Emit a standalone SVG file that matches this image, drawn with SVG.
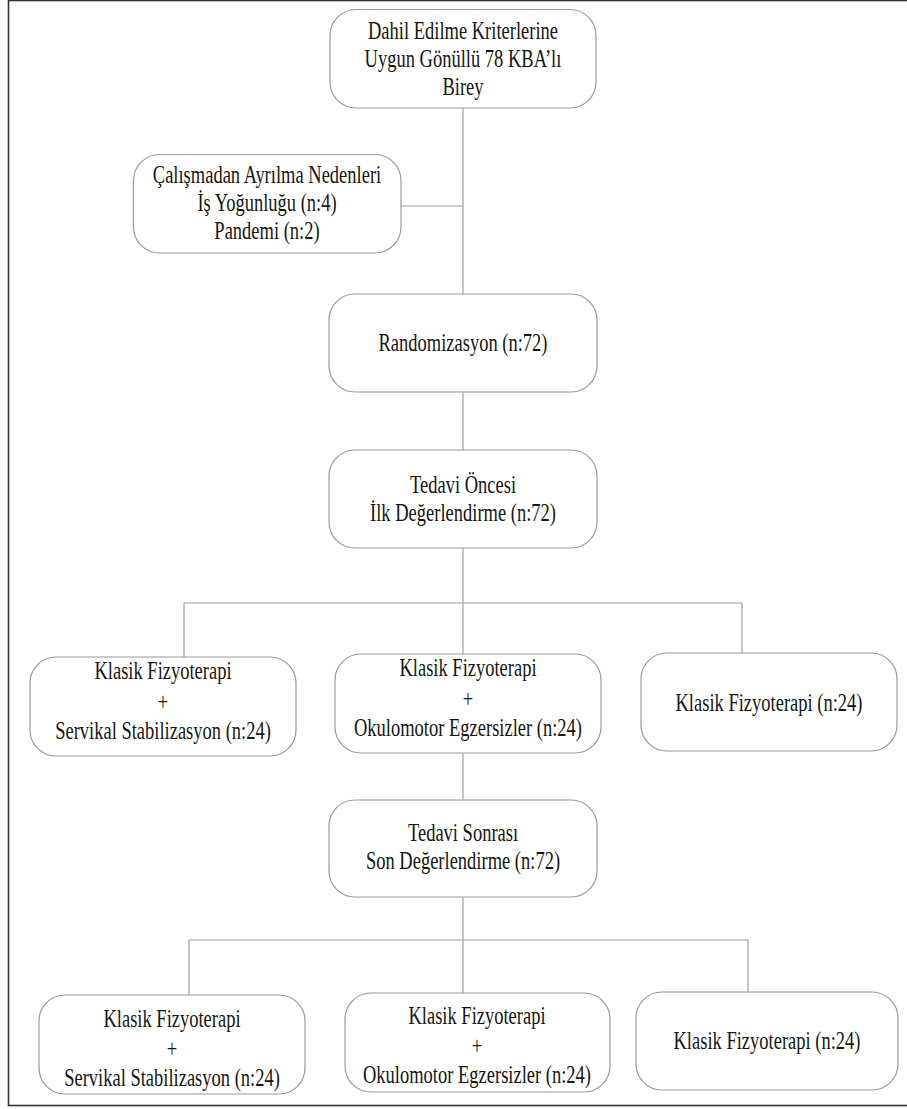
<svg xmlns="http://www.w3.org/2000/svg" width="907" height="1109" viewBox="0 0 907 1109">
<style>
.box{fill:#fff;stroke:#9a9a9a;stroke-width:1.2}
.lbl{font-family:"Liberation Serif","Times New Roman",serif;font-size:25px;fill:#151515;text-anchor:middle}
.con{fill:none;stroke:#a0a0a0;stroke-width:1.2}
</style>
<rect x="0" y="0" width="907" height="1109" fill="#fff"/>
<rect x="8.5" y="0.5" width="905" height="1105" fill="none" stroke="#333" stroke-width="1.6"/>
<g id="connectors" class="con">
<path d="M463 108V294"/>
<path d="M401 206H463"/>
<path d="M463 392V450"/>
<path d="M463 548V603"/>
<path d="M184 603H742"/>
<path d="M184 603V657"/>
<path d="M463 603V654"/>
<path d="M742 603V653"/>
<path d="M463 753V800"/>
<path d="M463 897V940"/>
<path d="M189 940H748"/>
<path d="M189 940V995"/>
<path d="M463 940V993"/>
<path d="M748 940V992"/>
</g>
<g id="n-top">
<rect class="box" x="330" y="9.5" width="266" height="98.5" rx="26"/>
<text class="lbl" transform="translate(463 0) scale(0.74 1)"><tspan x="0" y="39">Dahil Edilme Kriterlerine</tspan><tspan x="0" y="67">Uygun Gönüllü 78 KBA’lı</tspan><tspan x="0" y="95">Birey</tspan></text>
</g>
<g id="n-exit">
<rect class="box" x="133.5" y="154.5" width="267.5" height="98.5" rx="26"/>
<text class="lbl" transform="translate(267 0) scale(0.74 1)"><tspan x="0" y="183.5">Çalışmadan Ayrılma Nedenleri</tspan><tspan x="0" y="211.5">İş Yoğunluğu (n:4)</tspan><tspan x="0" y="239.5">Pandemi (n:2)</tspan></text>
</g>
<g id="n-rand">
<rect class="box" x="329" y="294" width="268" height="98" rx="26"/>
<text class="lbl" transform="translate(463 0) scale(0.74 1)"><tspan x="0" y="351.5">Randomizasyon (n:72)</tspan></text>
</g>
<g id="n-pre">
<rect class="box" x="329" y="450" width="268" height="98" rx="26"/>
<text class="lbl" transform="translate(463 0) scale(0.74 1)"><tspan x="0" y="493">Tedavi Öncesi</tspan><tspan x="0" y="521">İlk Değerlendirme (n:72)</tspan></text>
</g>
<g id="n-g1a">
<rect class="box" x="30" y="657" width="266" height="99" rx="26"/>
<text class="lbl" transform="translate(163 0) scale(0.74 1)"><tspan x="0" y="679">Klasik Fizyoterapi</tspan><tspan x="0" y="710">+</tspan><tspan x="0" y="739">Servikal Stabilizasyon (n:24)</tspan></text>
</g>
<g id="n-g2a">
<rect class="box" x="335" y="654" width="266" height="99" rx="26"/>
<text class="lbl" transform="translate(468 0) scale(0.74 1)"><tspan x="0" y="676">Klasik Fizyoterapi</tspan><tspan x="0" y="707">+</tspan><tspan x="0" y="736">Okulomotor Egzersizler (n:24)</tspan></text>
</g>
<g id="n-g3a">
<rect class="box" x="641" y="653" width="256" height="98" rx="26"/>
<text class="lbl" transform="translate(769 0) scale(0.74 1)"><tspan x="0" y="711">Klasik Fizyoterapi (n:24)</tspan></text>
</g>
<g id="n-post">
<rect class="box" x="329" y="800" width="268" height="97" rx="26"/>
<text class="lbl" transform="translate(463 0) scale(0.74 1)"><tspan x="0" y="841">Tedavi Sonrası</tspan><tspan x="0" y="869">Son Değerlendirme (n:72)</tspan></text>
</g>
<g id="n-g1b">
<rect class="box" x="39" y="995" width="266" height="99" rx="26"/>
<text class="lbl" transform="translate(172 0) scale(0.74 1)"><tspan x="0" y="1027">Klasik Fizyoterapi</tspan><tspan x="0" y="1057">+</tspan><tspan x="0" y="1086">Servikal Stabilizasyon (n:24)</tspan></text>
</g>
<g id="n-g2b">
<rect class="box" x="345" y="993" width="265" height="99" rx="26"/>
<text class="lbl" transform="translate(477 0) scale(0.74 1)"><tspan x="0" y="1024">Klasik Fizyoterapi</tspan><tspan x="0" y="1054">+</tspan><tspan x="0" y="1083">Okulomotor Egzersizler (n:24)</tspan></text>
</g>
<g id="n-g3b">
<rect class="box" x="636" y="992" width="262" height="98" rx="26"/>
<text class="lbl" transform="translate(767 0) scale(0.74 1)"><tspan x="0" y="1049">Klasik Fizyoterapi (n:24)</tspan></text>
</g>
</svg>
